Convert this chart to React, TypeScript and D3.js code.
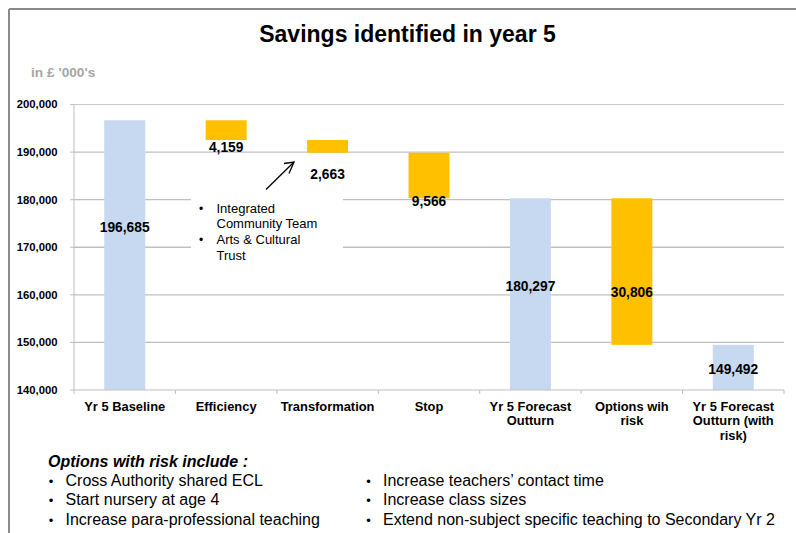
import React from "react";
import * as d3 from "d3";

const categories = [
  "Yr 5 Baseline",
  "Efficiency",
  "Transformation",
  "Stop",
  "Yr 5 Forecast Outturn",
  "Options wih risk",
  "Yr 5 Forecast Outturn (with risk)",
];
const categoryLines = [
  ["Yr 5 Baseline"],
  ["Efficiency"],
  ["Transformation"],
  ["Stop"],
  ["Yr 5 Forecast", "Outturn"],
  ["Options wih", "risk"],
  ["Yr 5 Forecast", "Outturn (with", "risk)"],
];
// bar start / end values (waterfall)
const barStart = [140000, 196685, 192526, 189863, 140000, 180297, 140000];
const barEnd = [196685, 192526, 189863, 180297, 180297, 149491, 149492];
const barKind = ["total", "step", "step", "step", "total", "step", "total"];
const labelText = ["196,685", "4,159", "2,663", "9,566", "180,297", "30,806", "149,492"];
const labelValue = [174300, 191070, 185400, 179580, 161860, 160600, 144410];
const yTicks = [140000, 150000, 160000, 170000, 180000, 190000, 200000];
const annotationItems = [["Integrated", "Community Team"], ["Arts & Cultural", "Trust"]];
const risksLeft = ["Cross Authority shared ECL", "Start nursery at age 4", "Increase para-professional teaching"];
const risksRight = ["Increase teachers\u2019 contact time", "Increase class sizes", "Extend non-subject specific teaching to Secondary Yr 2"];

const FONT = "Arial, 'Liberation Sans', Helvetica, sans-serif";

export default function App() {
  const W = 796, H = 533;
  const x = d3.scaleBand<string>().domain(categories).range([74, 784]).padding(0);
  const y = d3.scaleLinear().domain([140000, 200000]).range([390, 104.5]);
  const bw = x.bandwidth() * 0.404;
  const fmt = d3.format(",");
  const grid = "#bfbfbf";

  const boundaries = d3.range(categories.length + 1).map((i) => 74 + i * x.step());

  return (
    <svg width={W} height={H} style={{ position: "absolute", left: 0, top: 0, background: "#fff" }} fontFamily={FONT}>
      <rect x={0} y={0} width={W} height={H} fill="#fff" />
      {/* frame */}
      <line x1={9} y1={9} x2={W} y2={9} stroke="#8a8a8a" strokeWidth={2} />
      <line x1={9} y1={9} x2={9} y2={H} stroke="#8a8a8a" strokeWidth={2} />

      {/* title */}
      <text x={407.5} y={42} textAnchor="middle" fontSize={23} fontWeight="bold" fill="#000">
        Savings identified in year 5
      </text>
      <text x={31} y={77} fontSize={13.7} fontWeight="bold" fill="#a6a6a6">in £ '000's</text>

      {/* gridlines */}
      {yTicks.map((t) => (
        <g key={t}>
          {t > 140000 && (
            <line x1={74} x2={784} y1={y(t)} y2={y(t)} stroke={t === 200000 ? "#c8c8c8" : grid} strokeWidth={t === 200000 ? 1 : 1.4} />
          )}
          <line x1={70} x2={74} y1={y(t)} y2={y(t)} stroke={grid} strokeWidth={1} />
          <text x={57.5} y={y(t)} dy="0.35em" textAnchor="end" fontSize={11.3} fontWeight="bold" fill="#000">
            {fmt(t)}
          </text>
        </g>
      ))}

      {/* annotation box background */}
      <rect x={191} y={197} width={152} height={68} fill="#fff" />

      {/* bars */}
      {categories.map((c, i) => {
        const top = y(Math.max(barStart[i], barEnd[i]));
        const bot = y(Math.min(barStart[i], barEnd[i]));
        return (
          <rect key={c} x={x(c)! + x.bandwidth() / 2 - bw / 2} y={top} width={bw} height={bot - top}
            fill={barKind[i] === "total" ? "#c6d9f1" : "#ffc000"} />
        );
      })}

      {/* axes */}
      <line x1={74} x2={74} y1={y(200000)} y2={390} stroke={grid} strokeWidth={1} />
      <line x1={74} x2={784} y1={390} y2={390} stroke={grid} strokeWidth={1.2} />
      {boundaries.map((b, i) => (
        <line key={i} x1={b} x2={b} y1={390} y2={394} stroke={grid} strokeWidth={1} />
      ))}

      {/* data labels */}
      {categories.map((c, i) => (
        <text key={c} x={x(c)! + x.bandwidth() / 2} y={y(labelValue[i])} dy="0.35em" textAnchor="middle"
          fontSize={13.8} fontWeight="bold" fill="#000">
          {labelText[i]}
        </text>
      ))}

      {/* category labels */}
      {categories.map((c, i) => (
        <text key={c} x={x(c)! + x.bandwidth() / 2} y={410.5} textAnchor="middle" fontSize={12.9} fontWeight="bold" fill="#000">
          {categoryLines[i].map((l, j) => (
            <tspan key={j} x={x(c)! + x.bandwidth() / 2} dy={j === 0 ? 0 : 14.8}>{l}</tspan>
          ))}
        </text>
      ))}

      {/* annotation */}
      {annotationItems.map((item, k) => (
        <g key={k}>
          <text x={201} y={212.5 + k * 31.5} textAnchor="middle" fontSize={12} fill="#000">•</text>
          {item.map((l, j) => (
            <text key={j} x={216.5} y={212.5 + k * 31.5 + j * 15.7} fontSize={13} fill="#000">{l}</text>
          ))}
        </g>
      ))}
      <line x1={266} y1={189.5} x2={294} y2={162} stroke="#000" strokeWidth={1.3} />
      <polyline points="284,163.5 294,162 289,173.5" fill="none" stroke="#000" strokeWidth={1.3} />

      {/* bottom notes */}
      <text x={48} y={467} fontSize={16} fontWeight="bold" fontStyle="italic" fill="#000">Options with risk include :</text>
      {risksLeft.map((r, i) => (
        <g key={r}>
          <text x={51} y={485.5 + i * 19.5} textAnchor="middle" fontSize={13} fill="#000">•</text>
          <text x={65.5} y={485.5 + i * 19.5} fontSize={16} fill="#000">{r}</text>
        </g>
      ))}
      {risksRight.map((r, i) => (
        <g key={r}>
          <text x={368.5} y={485.5 + i * 19.5} textAnchor="middle" fontSize={13} fill="#000">•</text>
          <text x={383} y={485.5 + i * 19.5} fontSize={16} fill="#000">{r}</text>
        </g>
      ))}
    </svg>
  );
}
